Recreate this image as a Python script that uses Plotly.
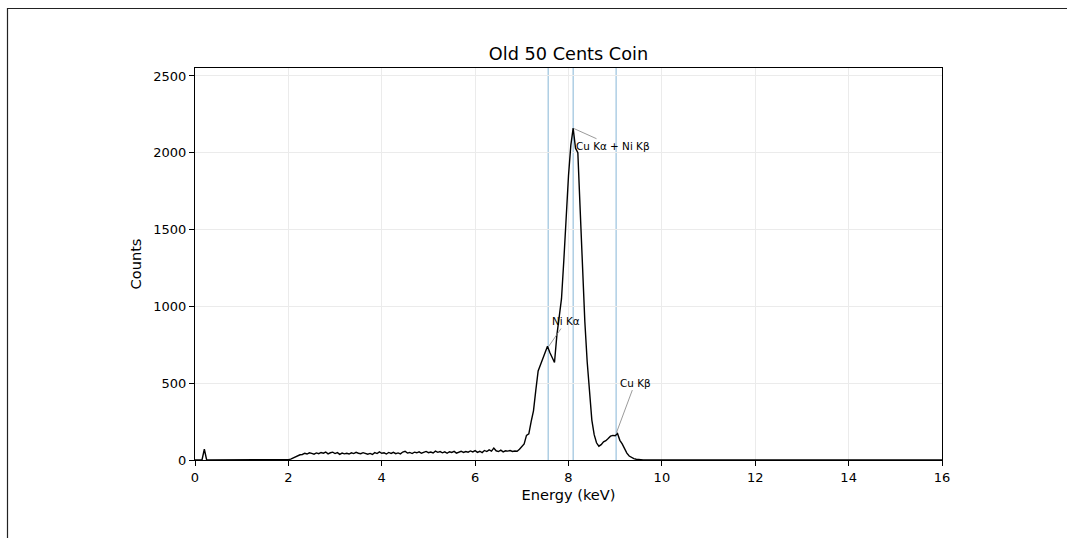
import numpy as np
import plotly.graph_objects as go

# ---- data ----
step_kev = 0.05
low_counts = [0, 0, 0, 0, 70] + [0] * 35                     # 0.00 - 1.95 keV
background_counts = [2, 6, 13, 21, 27, 34, 36, 44, 39, 47,     # 2.00 - 2.45
                     43, 38, 46, 41, 49, 44, 52, 40, 47, 51,   # 2.50 - 2.95
                     42, 48, 37, 45, 40, 44, 39, 47, 42, 50,   # 3.00 - 3.45
                     44, 41, 48, 45, 38, 43, 36, 48, 42, 53,   # 3.50 - 3.95
                     44, 47, 39, 49, 43, 50, 41, 46, 40, 52,   # 4.00 - 4.45
                     57, 45, 49, 42, 51, 47, 53, 44, 50, 56,   # 4.50 - 4.95
                     48, 52, 46, 58, 50, 55, 47, 53, 44, 54,   # 5.00 - 5.45
                     49, 56, 45, 52, 57, 49, 55, 51, 59, 53,   # 5.50 - 5.95
                     61, 50, 57, 48, 62, 55, 66, 58, 78, 60,   # 6.00 - 6.45
                     55, 64, 53, 60, 58, 62, 56, 59, 57, 70]   # 6.50 - 6.95
peak_region_counts = [85, 105, 160, 170, 250, 320, 455, 580, 620, 665,        # 7.00 - 7.45
                      700, 740, 700, 665, 635, 810, 920, 1050, 1300, 1600,    # 7.50 - 7.95
                      1850, 2050, 2160, 2030, 2000, 1630, 1250, 900, 640, 420,  # 8.00 - 8.45
                      260, 165, 112, 90, 100, 118, 126, 140, 155, 160,        # 8.50 - 8.95
                      158, 172, 128, 105, 75, 45, 26, 15, 9, 5,               # 9.00 - 9.45
                      2]                                                     # 9.50
tail_counts = [1, 1, 0, 2, 1, 0, 1, 2, 0, 1,
               1, 0, 2, 1, 0, 1, 0, 2, 1, 1, 0, 1, 2, 0, 1, 0, 1, 1, 0, 2,
               1, 0, 1, 2, 0, 1, 0, 1, 3, 1, 0, 2, 1, 0, 1, 1, 0, 2, 1, 0,
               2, 1, 0, 1, 3, 1, 0, 2, 1, 0, 1, 0, 2, 1, 1, 0, 1, 0, 2, 1,
               0, 1, 1, 0, 2, 1, 0, 1, 0, 1, 2, 0, 1, 1, 0, 1, 0, 2, 1, 0,
               1, 0, 2, 1, 0, 1, 1, 0, 2, 1, 0, 1, 0, 1, 2, 0, 1, 1, 0, 1,
               0, 2, 1, 0, 1, 2, 0, 1, 1, 0, 2, 1, 0, 1, 3, 1, 0, 1, 2, 1]

counts = low_counts + background_counts + peak_region_counts + tail_counts
energy = np.round(np.arange(len(counts)) * step_kev, 2)

peak_labels = ["Ni Kα", "Cu Kα + Ni Kβ", "Cu Kβ"]
peak_energies = [7.565, 8.10, 9.02]
peak_heights = [735, 2160, 172]
label_offsets = [(18, -26), (40, 18), (19, -51)]

x_ticks = [0, 2, 4, 6, 8, 10, 12, 14, 16]
y_ticks = [0, 500, 1000, 1500, 2000, 2500]

# ---- figure ----
fig = go.Figure()
fig.add_trace(go.Scatter(x=energy, y=counts, mode="lines",
                         line=dict(color="black", width=1.4),
                         showlegend=False, hoverinfo="x+y"))

for e in peak_energies:
    fig.add_vline(x=e, line=dict(color="rgba(31,119,180,0.45)", width=1.2), layer="below")

for lab, e, h, (ax, ay) in zip(peak_labels, peak_energies, peak_heights, label_offsets):
    fig.add_annotation(x=e, y=h, text=lab, showarrow=True, arrowhead=0,
                       arrowwidth=0.8, arrowcolor="gray", ax=ax, ay=ay,
                       standoff=1, font=dict(family="DejaVu Sans", size=10.4, color="black"))

# outer figure frame (cropped, as in the reference)
fig.add_shape(type="rect", xref="paper", yref="paper",
              x0=(7.5 - 195) / 747, x1=(1080 - 195) / 747,
              y0=(460 - 550) / 392, y1=(460 - 8.5) / 392,
              line=dict(color="#222222", width=1.2), fillcolor="rgba(0,0,0,0)")

axis_common = dict(showline=True, linecolor="black", linewidth=1.2, mirror=True,
                   ticks="outside", ticklen=5, tickcolor="black", tickwidth=1,
                   showgrid=True, gridcolor="#ebebeb", gridwidth=1, zeroline=False,
                   tickfont=dict(family="DejaVu Sans", size=13, color="black"))

fig.update_xaxes(range=[0, 16], tickvals=x_ticks,
                 title=dict(text="Energy (keV)", font=dict(family="DejaVu Sans", size=14.6, color="black"),
                            standoff=6),
                 **axis_common)
fig.update_yaxes(range=[0, 2552], tickvals=y_ticks,
                 title=dict(text="Counts", font=dict(family="DejaVu Sans", size=14.6, color="black"),
                            standoff=8),
                 **axis_common)

fig.update_layout(
    width=1067, height=538,
    margin=dict(l=195, r=125, t=68, b=78),
    paper_bgcolor="white", plot_bgcolor="white",
    font=dict(family="DejaVu Sans", color="black"),
    title=dict(text="Old 50 Cents Coin", x=(568.5) / 1067, xanchor="center",
               y=1 - 54 / 538, yanchor="middle",
               font=dict(family="DejaVu Sans", size=17.7, color="black")),
)

fig.write_html("out.html")
